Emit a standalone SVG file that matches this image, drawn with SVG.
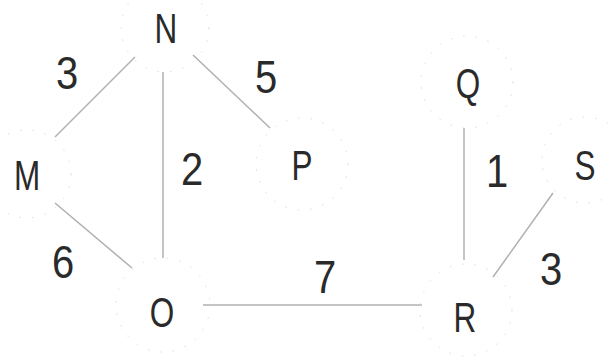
<svg xmlns="http://www.w3.org/2000/svg" width="611" height="358" viewBox="0 0 611 358">
<style>
.lbl{font-family:"Liberation Sans",Arial,sans-serif;font-size:42px;fill:#2a2a2a;text-anchor:middle}
.num{font-family:"Liberation Sans",Arial,sans-serif;font-size:47px;fill:#2a2a2a;text-anchor:middle}
.ring{fill:none;stroke:#dcdcdc;stroke-width:1;stroke-dasharray:1.5 11}
.edge{stroke:#b0b0b0;stroke-width:1.5;fill:none}
</style>
<rect width="611" height="358" fill="#fff"/>
<g id="connectors">
<line class="edge" x1="55" y1="137" x2="135" y2="57"/>
<line class="edge" x1="163" y1="72" x2="163" y2="258"/>
<line class="edge" x1="193" y1="55" x2="270" y2="128"/>
<line class="edge" x1="55" y1="203" x2="132" y2="268"/>
<line class="edge" x1="203" y1="305" x2="422" y2="305" stroke-width="2.4"/>
<line class="edge" x1="464" y1="128" x2="464" y2="260"/>
<line class="edge" x1="493" y1="277" x2="553" y2="193"/>
<text class="num" transform="translate(67,89) scale(0.85,1)">3</text>
<text class="num" transform="translate(266,93) scale(0.85,1)">5</text>
<text class="num" transform="translate(192,185) scale(0.85,1)">2</text>
<text class="num" transform="translate(63,278) scale(0.85,1)">6</text>
<text class="num" transform="translate(325,293) scale(0.85,1)">7</text>
<text class="num" transform="translate(497,187) scale(0.85,1)">1</text>
<text class="num" transform="translate(551,285) scale(0.85,1)">3</text>
</g>
<g id="node-N"><circle class="ring" cx="165" cy="28" r="44"/><text class="lbl" transform="translate(166,43) scale(0.75,1)">N</text></g>
<g id="node-M"><circle class="ring" cx="27" cy="174" r="44"/><text class="lbl" transform="translate(27,190) scale(0.75,1)">M</text></g>
<g id="node-P"><circle class="ring" cx="302" cy="164" r="46"/><text class="lbl" transform="translate(302,180) scale(0.75,1)">P</text></g>
<g id="node-O"><circle class="ring" cx="163" cy="305" r="47"/><text class="lbl" transform="translate(162,327) scale(0.75,1)">O</text></g>
<g id="node-Q"><circle class="ring" cx="467" cy="82" r="46"/><text class="lbl" transform="translate(468,98) scale(0.75,1)">Q</text></g>
<g id="node-R"><circle class="ring" cx="466" cy="310" r="46"/><text class="lbl" transform="translate(465,332) scale(0.75,1)">R</text></g>
<g id="node-S"><circle class="ring" cx="585" cy="160" r="43"/><text class="lbl" transform="translate(585,180) scale(0.75,1)">S</text></g>
</svg>
